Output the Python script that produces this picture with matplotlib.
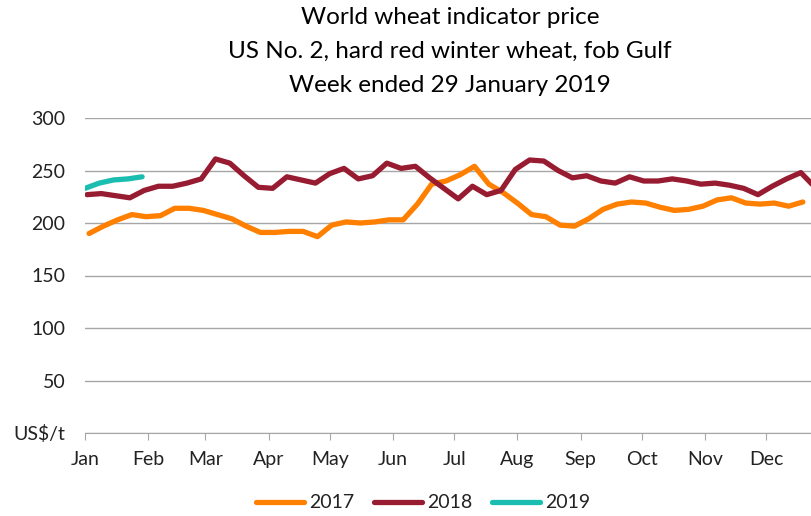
import numpy as np
import pandas as pd
import matplotlib
matplotlib.use("Agg")
import matplotlib.pyplot as plt

plt.rcParams['font.family'] = ['Lato', 'DejaVu Sans']

# weekly prices, US$/t (Tuesdays)
dates_2017 = pd.date_range('2017-01-03', periods=51, freq='7D')
dates_2018 = pd.date_range('2018-01-02', periods=52, freq='7D')
dates_2019 = pd.date_range('2019-01-01', periods=5, freq='7D')

price_2017 = [190, 197, 203, 208, 206, 207, 214, 214, 212, 208,
              204, 197, 191, 191, 192, 192, 187, 198, 201, 200,
              201, 203, 203, 218, 237, 240, 246, 254, 237, 229,
              219, 208, 206, 198, 197, 204, 213, 218, 220, 219,
              215, 212, 213, 216, 222, 224, 219, 218, 219, 216,
              220]
price_2018 = [227, 228, 226, 224, 231, 235, 235, 238, 242, 261,
              257, 245, 234, 233, 244, 241, 238, 247, 252, 242,
              245, 257, 252, 254, 243, 233, 223, 235, 227, 231,
              251, 260, 259, 250, 243, 245, 240, 238, 244, 240,
              240, 242, 240, 237, 238, 236, 233, 227, 235, 242,
              248, 234]
price_2019 = [233, 238, 241, 242, 244]

months = ['Jan', 'Feb', 'Mar', 'Apr', 'May', 'Jun',
          'Jul', 'Aug', 'Sep', 'Oct', 'Nov', 'Dec']
month_start = pd.date_range('2018-01-01', periods=12, freq='MS').dayofyear - 1
yticks = [0, 50, 100, 150, 200, 250, 300]
ylabels = ['US$/t', '50', '100', '150', '200', '250', '300']

fig = plt.figure(figsize=(8.11, 5.16), dpi=100)
ax = fig.add_axes([85/811, 83/516, 726/811, 315/516])

lw = 3.8
ax.plot(dates_2017.dayofyear - 1, price_2017, color='#FF7F00', lw=lw,
        solid_capstyle='round', solid_joinstyle='round', label='2017')
ax.plot(dates_2018.dayofyear - 1, price_2018, color='#971B31', lw=lw,
        solid_capstyle='round', solid_joinstyle='round', label='2018')
ax.plot(dates_2019.dayofyear - 1, price_2019, color='#1CBDB1', lw=lw,
        solid_capstyle='round', solid_joinstyle='round', label='2019')

ax.set_xlim(0, 356)
ax.set_ylim(0, 300)
ax.set_yticks(yticks)
ax.set_yticklabels(ylabels)
ax.set_xticks(month_start)
ax.set_xticklabels(months)
ax.grid(True, axis='y', color='#A6A6A6', lw=1)
ax.set_axisbelow(True)
for s in ['top', 'right', 'left']:
    ax.spines[s].set_visible(False)
ax.spines['bottom'].set_color('#A6A6A6')
ax.tick_params(axis='y', length=0, pad=14, labelsize=14, labelcolor='#222222')
ax.tick_params(axis='x', length=5, color='#A6A6A6', pad=8, labelsize=14, labelcolor='#222222')

title_lines = ['World wheat indicator price',
               'US No. 2, hard red winter wheat, fob Gulf',
               'Week ended 29 January 2019']
for i, t in enumerate(title_lines):
    fig.text(450/811, 1 - (18 + 33.5*i)/516, t, ha='center', va='center', fontsize=17.5)

fig.legend(loc='center', bbox_to_anchor=(423/811, 1 - 503/516), ncol=3, frameon=False,
           fontsize=14, handlelength=2.5, handletextpad=0.25, columnspacing=1.0,
           labelcolor='#222222')

fig.savefig('out.png', dpi=100)
